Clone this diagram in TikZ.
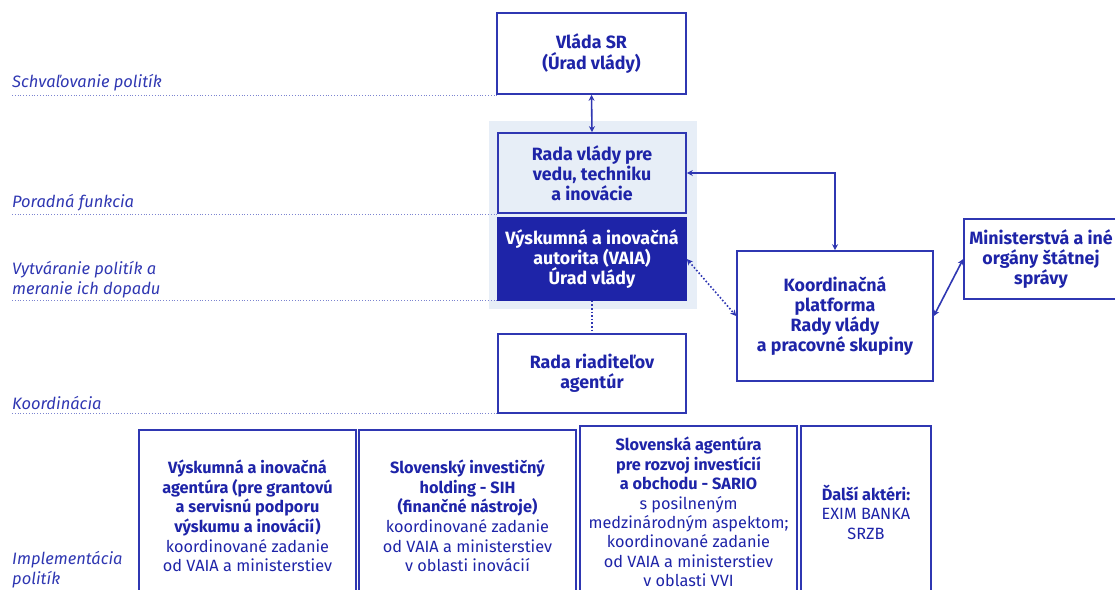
\documentclass[tikz,border=0pt]{standalone}
\usepackage{fontspec}
\setmainfont{Fira Sans}
\usetikzlibrary{arrows.meta}
\definecolor{dblue}{HTML}{1E24A8}
\definecolor{lblue}{HTML}{2F37B2}
\definecolor{bgblue}{HTML}{E7EEF7}
\definecolor{dotc}{HTML}{7C84D0}
\tikzset{
  box/.style={draw=lblue, line width=1.6pt, rectangle, align=center, text=dblue,
    font=\fontsize{16.3}{19.6}\selectfont, inner sep=2pt},
  topbox/.style={box, fill=white, font=\fontsize{17.8}{20}\selectfont\bfseries},
  lab/.style={anchor=base west, text=lblue, font=\fontsize{16.5}{20}\selectfont\itshape, inner sep=0pt, align=left},
  guide/.style={dotc, dotted, line width=0.8pt},
  conn/.style={lblue, line width=1.6pt, {Stealth[length=6pt,width=6pt]}-{Stealth[length=6pt,width=6pt]}},
  dconn/.style={lblue, line width=1.6pt, dotted},
}
\begin{document}
\begin{tikzpicture}[x=1pt,y=-1pt]
\useasboundingbox (0,0) rectangle (1115,589);
\clip (0,0) rectangle (1115,589);
% light background
\fill[bgblue] (489,121) rectangle (697,309);
% guide lines
\draw[guide] (12,95) -- (497,95);
\draw[guide] (12,214) -- (497,214);
\draw[guide] (12,300) -- (497,300);
\draw[guide] (12,413) -- (497,413);
% labels
\node[lab] (l1) at (12,87) {Schvaľovanie politík};
\node[lab] (l2) at (12,207) {Poradná funkcia};
\node[lab] (l3) at (12,274) {Vytváranie politík a};
\node[lab] (l3b) at (12,294) {meranie ich dopadu};
\node[lab] (l4) at (12,409) {Koordinácia};
\node[lab] (l5) at (12,564) {Implementácia};
\node[lab] (l5b) at (12,584) {politík};
% boxes
\node[topbox, minimum width=189pt, minimum height=81pt, font=\fontsize{17.8}{21}\selectfont\bfseries] (vlada) at (591.5,53.5) {Vláda SR\\(Úrad vlády)};
\node[topbox, fill=bgblue, minimum width=188pt, minimum height=80pt] (radav) at (592,173) {Rada vlády pre\\vedu, techniku\\a inovácie};
\node[topbox, draw=dblue, fill=dblue, text=white, minimum width=188pt, minimum height=82pt] (vaia) at (592,259) {Výskumná a inovačná\\autorita (VAIA)\\Úrad vlády};
\node[topbox, minimum width=188pt, minimum height=79pt] (rrada) at (592,373.5) {Rada riaditeľov\\agentúr};
\node[topbox, minimum width=196pt, minimum height=130pt] (koord) at (835,316) {Koordinačná\\platforma\\Rady vlády\\a pracovné skupiny};
\node[topbox, minimum width=154pt, minimum height=80pt] (minist) at (1041,259) {Ministerstvá a iné\\orgány štátnej\\správy};
% bottom boxes
\node[box, minimum width=217pt, minimum height=172pt] (b1) at (247.5,516) {\textbf{Výskumná a inovačná}\\\textbf{agentúra (pre grantovú}\\\textbf{a servisnú podporu}\\\textbf{výskumu a inovácií)}\\koordinované zadanie\\od VAIA a ministerstiev};
\node[box, minimum width=217pt, minimum height=172pt] (b2) at (467.5,516) {\textbf{Slovenský investičný}\\\textbf{holding - SIH}\\\textbf{(finančné nástroje)}\\koordinované zadanie\\od VAIA a ministerstiev\\v oblasti inovácií};
\node[box, minimum width=217pt, minimum height=172pt, font=\fontsize{16.3}{19.4}\selectfont] (b3) at (688.5,512) {\textbf{Slovenská agentúra}\\\textbf{pre rozvoj investícií}\\\textbf{a obchodu - SARIO}\\s posilneným\\medzinárodným aspektom;\\koordinované zadanie\\od VAIA a ministerstiev\\v oblasti VVI};
\node[box, minimum width=130pt, minimum height=172pt] (b4) at (866,512) {\textbf{Ďalší aktéri:}\\EXIM BANKA\\SRZB};
% connectors
\draw[conn] (vlada.south) -- (radav.north);
\draw[conn] (radav.east) -| (koord.north);
\draw[conn, dotted] (vaia.east) -- (koord.west);
\draw[dconn] (vaia.south) -- (rrada.north);
\draw[conn] (koord.east) -- (minist.west);
\end{tikzpicture}
\end{document}
